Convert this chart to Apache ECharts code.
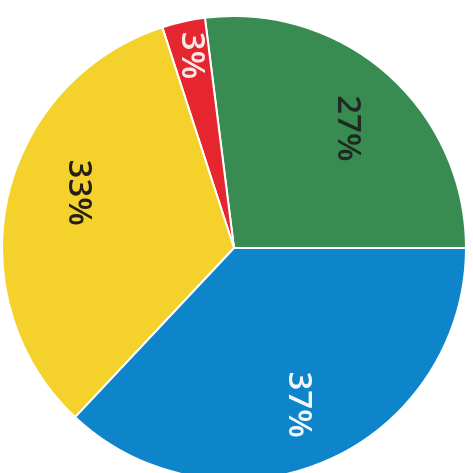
<!DOCTYPE html>
<html>
<head>
<meta charset="utf-8">
<script src="https://cdn.jsdelivr.net/npm/echarts@6/dist/echarts.min.js"></script>
<style>
  html, body { margin: 0; padding: 0; background: #fff; }
  #chart { width: 473px; height: 473px; }
</style>
</head>
<body>
<div id="chart"></div>
<script>
// slice data, counter-clockwise from 3 o'clock
const categories = ['Green', 'Red', 'Yellow', 'Blue'];
const values = [27, 3, 33, 37];
const labels = ['27%', '3%', '33%', '37%'];

const colors = ['#388c51', '#e6262f', '#f5d22b', '#0e84cb'];
const textColors = ['#1c2a1f', '#fbe9ea', '#231f14', '#f4f8fc'];
// where each label sits: share of the radius, and turn (deg) off the slice middle
const labelRadius = [0.71, 0.85, 0.71, 0.73];
const labelTurn = [-2, 0, -7, -1];

const chart = echarts.init(document.getElementById('chart'), null, { renderer: 'canvas' });

chart.setOption({
  backgroundColor: '#fff',
  animation: false,
  series: [{
    type: 'pie',
    center: [234, 248],
    radius: [0, 232],
    startAngle: 0,
    clockwise: false,
    avoidLabelOverlap: false,
    itemStyle: { borderColor: '#fff', borderWidth: 2 },
    label: {
      show: true,
      position: 'inside',
      rotate: -90,
      fontFamily: 'Open Sans',
      fontSize: 33,
      fontWeight: 600,
      formatter: p => labels[p.dataIndex]
    },
    labelLayout: params => {
      // push each label out along its slice's middle angle
      const i = params.dataIndex;
      const lay = chart.getModel().getSeriesByIndex(0).getData().getItemLayout(i);
      const mid = (lay.startAngle + lay.endAngle) / 2 - labelTurn[i] * Math.PI / 180;
      const rr = lay.r * labelRadius[i];
      return { x: lay.cx + rr * Math.cos(mid), y: lay.cy + rr * Math.sin(mid), align: 'center', verticalAlign: 'middle' };
    },
    labelLine: { show: false },
    emphasis: { disabled: true },
    data: categories.map((name, i) => ({
      name,
      value: values[i],
      itemStyle: { color: colors[i] },
      label: { color: textColors[i] }
    }))
  }]
});
</script>
</body>
</html>
